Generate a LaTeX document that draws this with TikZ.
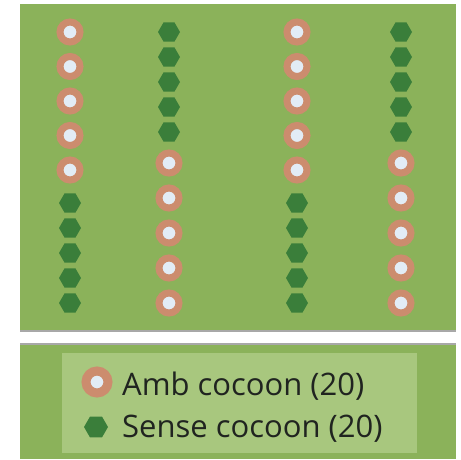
\documentclass[tikz,border=0pt]{standalone}
\usepackage{fontspec}
\setmainfont{Open Sans}
\usetikzlibrary{shapes.geometric}
\definecolor{field}{RGB}{139,178,90}
\definecolor{keybg}{RGB}{168,199,126}
\definecolor{ringc}{RGB}{204,140,110}
\definecolor{dotc}{RGB}{226,236,246}
\definecolor{hexc}{RGB}{58,126,58}
\definecolor{edgec}{RGB}{168,168,168}
\definecolor{inkc}{RGB}{32,36,32}

\tikzset{
  amb/.style={circle,fill=dotc,draw=ringc,line width=7pt,minimum size=20pt,inner sep=0pt},
  sense/.style={regular polygon,regular polygon sides=6,fill=hexc,minimum size=22pt,inner sep=0pt},
  keytext/.style={anchor=base west,text=inkc,font=\fontsize{31}{31}\selectfont,inner sep=0pt}
}

\begin{document}
\begin{tikzpicture}[x=1pt,y=-1pt]
  \useasboundingbox (0,0) rectangle (461,459);
  % field
  \fill[field] (20,4) rectangle (456,331);
  \draw[edgec,line width=2pt] (20,331) -- (456,331);
  % cocoon rows: amb on top in columns 1 and 3, sense on top in 2 and 4
  \foreach \c/\x in {1/70,3/297} {
    \foreach \i in {0,...,4} {
      \node[amb] (amb\c-\i) at (\x,32+34.5*\i) {};
      \node[sense] (sense\c-\i) at (\x,203+25*\i) {};
    }
  }
  \foreach \c/\x in {2/169,4/401} {
    \foreach \i in {0,...,4} {
      \node[sense] (sense\c-\i) at (\x,32+25*\i) {};
      \node[amb] (amb\c-\i) at (\x,163+35*\i) {};
    }
  }
  % legend
  \fill[field] (20,344) rectangle (456,459);
  \draw[edgec,line width=2pt] (20,344) -- (456,344);
  \fill[keybg] (62,353) rectangle (417,453);
  \node[amb,line width=9pt,minimum size=22pt] (ambkey) at (97,382) {};
  \node[sense,minimum size=24pt] (sensekey) at (96,427) {};
  \node[keytext] (ambtext) at (122,395) {Amb cocoon (20)};
  \node[keytext] (sensetext) at (122,437) {Sense cocoon (20)};
\end{tikzpicture}
\end{document}
